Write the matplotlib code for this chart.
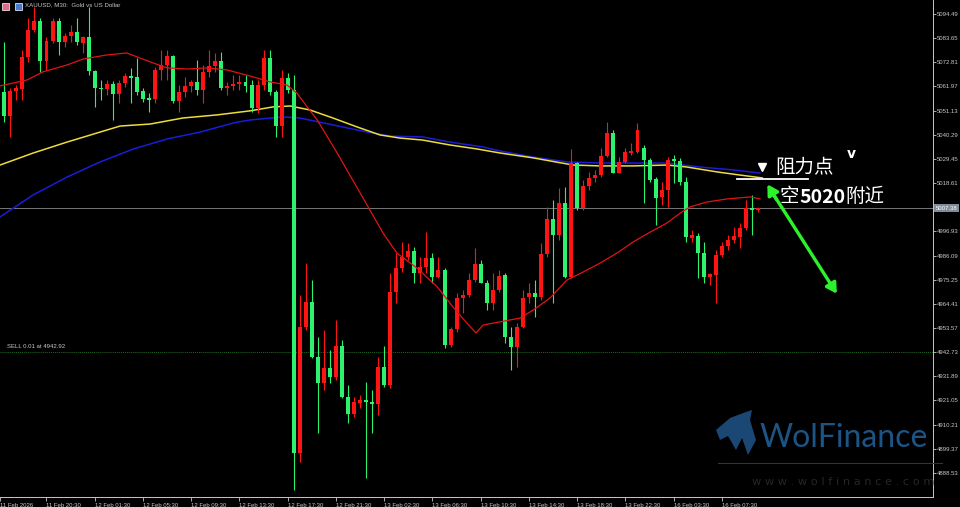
import numpy as np
import matplotlib
matplotlib.use("Agg")
import matplotlib.pyplot as plt
import matplotlib.transforms as mtransforms
from matplotlib.patches import Polygon, Rectangle

# XAUUSD M30 bars, red = up, green = down
# first bar is the one cut by the left edge
opens = [5071.6,
         5059.5, 5048.7, 5059.9, 5060.8, 5075.2, 5087.3, 5091.3, 5073.4, 5082.4, 5091.3,
         5081.9, 5084.6, 5086.4, 5081.5, 5084.2, 5068.9, 5061.3, 5060.8, 5063.1, 5058.6,
         5063.5, 5066.7, 5066.2, 5059.9, 5056.8, 5056.3, 5069.4, 5071.6, 5075.6, 5055.4,
         5059.5, 5062.2, 5064.0, 5060.4, 5068.5, 5071.2, 5073.4, 5061.3, 5062.2, 5063.1,
         5064.0, 5062.6, 5052.3, 5062.6, 5074.7, 5059.5, 5044.2, 5065.8, 5060.4, 4897.5,
         4954.0, 4965.2, 4940.5, 4928.9, 4935.6, 4931.6, 4945.5, 4922.6, 4915.0, 4919.9,
         4921.3, 4920.4, 4919.5, 4936.1, 4928.0, 4969.7, 4980.5, 4985.4, 4988.1, 4978.2,
         4980.9, 4985.0, 4976.5, 4979.6, 4945.9, 4953.1, 4967.0, 4968.4, 4975.1, 4982.3,
         4973.8, 4964.8, 4970.6, 4977.3, 4949.5, 4945.0, 4954.0, 4967.5, 4969.3, 4967.5,
         4986.8, 5002.5, 4995.3, 5009.7, 4976.5, 5027.6, 5007.4, 5017.3, 5020.9, 5022.2,
         5030.8, 5041.1, 5023.1, 5028.1, 5032.1, 5032.6, 5034.4, 5029.0, 5020.4, 5012.4,
         5015.5, 5029.4, 5028.5, 5019.1, 4993.9, 4994.8, 4987.2, 4976.5, 4977.3, 4986.3,
         4990.4, 4993.1, 4994.4, 4998.4, 5007.4, 5006.5]
highs = [5073.4,
         5081.9, 5061.3, 5062.6, 5078.3, 5092.7, 5097.6, 5092.7, 5084.2, 5092.7, 5092.7,
         5086.0, 5089.5, 5092.7, 5084.6, 5097.6, 5069.4, 5064.9, 5064.9, 5064.4, 5064.9,
         5068.0, 5070.3, 5074.7, 5061.3, 5059.0, 5070.7, 5078.3, 5078.3, 5076.1, 5062.6,
         5066.2, 5064.9, 5073.8, 5071.6, 5078.3, 5076.9, 5077.4, 5064.0, 5067.1, 5067.1,
         5067.1, 5064.9, 5064.9, 5078.3, 5078.3, 5060.4, 5069.4, 5068.0, 5067.1, 4968.4,
         4982.7, 4975.1, 4949.5, 4952.7, 4943.7, 4957.2, 4948.2, 4928.0, 4922.6, 4923.5,
         4929.3, 4925.7, 4940.5, 4945.5, 4978.2, 4987.2, 4992.2, 4991.7, 4989.9, 4985.4,
         4996.6, 4987.2, 4985.4, 4980.5, 4954.0, 4969.3, 4970.6, 4978.2, 4989.5, 4984.1,
         4975.1, 4978.2, 4979.6, 4978.2, 4954.0, 4955.8, 4970.6, 4973.8, 4975.1, 4991.7,
         5007.9, 5011.0, 5016.4, 5016.8, 5033.9, 5028.1, 5020.0, 5023.6, 5024.5, 5034.4,
         5046.0, 5042.4, 5030.3, 5034.4, 5036.6, 5045.6, 5035.7, 5029.9, 5021.3, 5019.1,
         5030.3, 5031.2, 5029.9, 5021.3, 4997.5, 4996.2, 4992.2, 4978.2, 4988.6, 4992.2,
         4995.3, 4998.9, 5000.7, 5011.0, 5013.3, 5007.9]
lows = [5059.9,
        5046.0, 5039.3, 5055.9, 5055.9, 5073.0, 5086.4, 5068.5, 5069.4, 5081.5, 5076.1,
        5079.7, 5081.9, 5080.6, 5077.0, 5067.1, 5052.8, 5055.9, 5058.1, 5046.9, 5054.6,
        5061.7, 5054.6, 5058.1, 5055.0, 5050.5, 5054.6, 5064.9, 5064.9, 5054.6, 5050.5,
        5057.2, 5059.5, 5058.1, 5054.6, 5066.2, 5068.5, 5060.4, 5058.1, 5060.4, 5060.4,
        5059.5, 5050.5, 5050.1, 5060.4, 5058.1, 5039.3, 5039.3, 5059.0, 4880.9, 4893.4,
        4952.7, 4940.1, 4906.4, 4925.7, 4928.9, 4930.2, 4922.1, 4911.0, 4913.6, 4917.7,
        4886.3, 4906.4, 4914.6, 4927.1, 4926.7, 4964.8, 4978.7, 4984.1, 4973.8, 4973.8,
        4978.2, 4973.8, 4976.0, 4944.6, 4945.0, 4951.8, 4960.3, 4967.5, 4974.2, 4973.8,
        4961.6, 4961.6, 4969.7, 4946.8, 4934.7, 4936.1, 4953.6, 4964.8, 4958.5, 4966.1,
        4985.4, 4964.8, 4993.1, 4976.0, 4976.0, 5006.5, 5006.5, 5015.5, 5019.1, 5021.3,
        5030.3, 5023.1, 5023.1, 5027.6, 5031.2, 5032.1, 5009.7, 5019.1, 4999.8, 5008.8,
        5007.9, 5018.6, 5017.8, 4992.2, 4992.2, 4976.0, 4973.8, 4972.9, 4964.8, 4985.4,
        4988.6, 4991.7, 4989.5, 4997.5, 4995.3, 5005.6]
closes = [5061.7,
          5048.7, 5059.9, 5061.3, 5075.2, 5087.3, 5091.3, 5073.4, 5082.4, 5091.3, 5081.9,
          5084.6, 5086.4, 5081.9, 5084.2, 5068.9, 5061.3, 5060.8, 5063.1, 5058.6, 5063.5,
          5066.7, 5065.8, 5059.5, 5056.3, 5055.9, 5069.4, 5071.6, 5075.6, 5055.4, 5059.5,
          5062.2, 5064.0, 5060.4, 5068.5, 5071.2, 5073.4, 5061.3, 5062.2, 5063.1, 5064.0,
          5062.2, 5052.3, 5062.6, 5074.7, 5059.5, 5044.2, 5065.8, 5060.4, 4897.5, 4954.0,
          4965.2, 4940.5, 4928.9, 4935.6, 4931.6, 4945.5, 4922.6, 4915.0, 4920.4, 4921.3,
          4920.4, 4919.5, 4936.1, 4928.0, 4969.7, 4980.5, 4985.4, 4988.1, 4978.2, 4980.9,
          4985.0, 4976.5, 4979.6, 4945.9, 4953.1, 4967.0, 4968.4, 4975.1, 4982.3, 4973.8,
          4964.8, 4970.6, 4976.9, 4949.5, 4945.0, 4954.0, 4967.0, 4969.3, 4967.5, 4986.8,
          5002.5, 4995.3, 5009.7, 4976.5, 5027.6, 5007.4, 5017.3, 5020.9, 5022.2, 5030.8,
          5041.1, 5023.1, 5028.1, 5032.6, 5033.0, 5042.4, 5029.0, 5020.0, 5011.9, 5015.5,
          5029.0, 5028.5, 5019.1, 4994.4, 4995.3, 4987.2, 4976.5, 4977.8, 4986.3, 4990.4,
          4993.1, 4994.8, 4998.4, 5007.4, 5006.5, 5007.4]

# moving averages (bar position, price)
ma_red_x = [-0.7, 3.8, 6.4, 10.4, 13.1, 17.0, 20.3, 24.7, 27.0, 30.3, 33.6, 36.9, 40.7, 44.1,
            46.9, 48.5, 51.9, 55.2, 59.0, 62.8, 65.1, 68.4, 71.8, 74.4, 76.7, 78.2, 79.4,
            82.2, 85.5, 87.7, 90.5, 93.3, 96.0, 98.8, 101.6, 104.3, 107.1, 109.9, 112.1,
            113.7, 116.5, 119.9, 123.7, 125.3]
ma_red_y = [5062.2, 5064.9, 5068.5, 5071.6, 5074.3, 5076.1, 5077.0, 5072.5, 5070.3, 5069.8,
            5070.3, 5069.4, 5066.7, 5064.0, 5062.6, 5059.0, 5046.9, 5032.1, 5014.2, 4996.2,
            4987.2, 4980.5, 4972.0, 4963.0, 4955.8, 4951.3, 4954.9, 4956.3, 4958.0, 4961.6,
            4967.0, 4975.1, 4978.7, 4982.7, 4987.2, 4992.2, 4996.6, 5000.7, 5005.2, 5007.9,
            5010.1, 5011.5, 5012.4, 5011.5]
ma_yel_x = [-0.7, 4.8, 10.4, 15.9, 19.2, 24.2, 29.6, 35.3, 40.7, 44.6, 47.4, 50.7, 54.5,
            58.5, 62.3, 65.6, 69.4, 73.9, 78.4, 82.2, 87.7, 94.3, 98.8, 104.3, 109.9, 113.2,
            118.2, 122.0, 125.7]
ma_yel_y = [5026.7, 5032.1, 5037.0, 5041.5, 5044.2, 5045.1, 5047.8, 5049.2, 5051.0, 5052.8,
            5053.2, 5051.4, 5047.8, 5043.8, 5040.2, 5038.8, 5037.9, 5035.7, 5033.9, 5032.1,
            5029.9, 5026.7, 5026.3, 5026.3, 5026.7, 5025.8, 5023.6, 5022.2, 5020.9]
ma_blu_x = [-0.7, 4.8, 10.4, 15.9, 21.4, 27.0, 32.5, 38.0, 40.7, 46.2, 49.0, 54.5, 60.2,
            64.0, 69.4, 73.9, 79.4, 82.2, 87.7, 93.3, 98.8, 104.3, 109.9, 115.4, 120.9, 125.3]
ma_blu_y = [5003.4, 5013.3, 5021.3, 5028.1, 5033.9, 5038.4, 5041.5, 5045.6, 5046.9, 5048.3,
            5047.8, 5044.7, 5041.5, 5039.7, 5039.3, 5037.0, 5034.8, 5033.0, 5030.3, 5028.1,
            5027.6, 5027.6, 5027.6, 5025.8, 5024.5, 5023.1]

price_ticks = [5094.49, 5083.65, 5072.81, 5061.97, 5051.13, 5040.29, 5029.45, 5018.61,
               4996.93, 4986.09, 4975.25, 4964.41, 4953.57, 4942.73, 4931.89, 4921.05,
               4910.21, 4899.37, 4888.53]
time_pos = [-0.7, 7, 15, 23, 31, 39, 47, 55, 63, 71, 79, 87, 95, 103, 111, 119]
time_labels = ["11 Feb 2026", "11 Feb 20:30", "12 Feb 01:30", "12 Feb 05:30", "12 Feb 09:30",
               "12 Feb 13:30", "12 Feb 17:30", "12 Feb 21:30", "13 Feb 02:30", "13 Feb 06:30",
               "13 Feb 10:30", "13 Feb 14:30", "13 Feb 18:30", "13 Feb 22:30", "16 Feb 03:30",
               "16 Feb 07:30"]
last_price = 5007.38
sell_price = 4942.92

cjk = ["Noto Sans CJK SC", "DejaVu Sans"]
small = "Liberation Sans"
axcol = "#c8c8c8"

fig = plt.figure(figsize=(9.6, 5.07), dpi=100, facecolor="black")
ax = fig.add_axes([0, 10 / 507, 933 / 960, 497 / 507], facecolor="black")

# candles
x = np.arange(len(opens)) - 1
o = np.array(opens); c = np.array(closes)
up = c >= o
cols = np.where(up, "#ff1414", "#2cf26e")
ax.vlines(x, lows, highs, colors=cols, lw=0.8, zorder=3)
bot = np.minimum(o, c)
hgt = np.maximum(np.abs(c - o), 0.6)
ax.bar(x, hgt, bottom=bot, width=0.66, color=cols, lw=0, zorder=4)

# moving averages
ax.plot(ma_blu_x, ma_blu_y, color="#1c1cd6", lw=1.1, zorder=2)
ax.plot(ma_yel_x, ma_yel_y, color="#ecdc3c", lw=1.1, zorder=2)
ax.plot(ma_red_x, ma_red_y, color="#e01414", lw=0.9, zorder=5)

# price lines
ax.axhline(last_price, color="#8a8a8a", lw=0.6, zorder=1)
ax.axhline(sell_price, color="#1f6a1f", lw=0.7, ls=(0, (1, 1)), zorder=1)
ax.text(0.5, sell_price + 1.2, "SELL 0.01 at 4942.92", color=axcol, fontsize=4.3,
        family=small, va="bottom", ha="left")

ax.set_xlim(-0.71, 154.0)
ax.set_ylim(4877.7, 5100.77)

# axes styling
for s in ["left", "top"]:
    ax.spines[s].set_visible(False)
for s in ["right", "bottom"]:
    ax.spines[s].set_color(axcol)
    ax.spines[s].set_linewidth(0.7)
ax.yaxis.tick_right()
ax.set_yticks(price_ticks)
ax.set_yticklabels([f"{v:.2f}" for v in price_ticks], family=small)
ax.tick_params(axis="y", colors=axcol, labelsize=4.3, length=2, width=0.6, pad=1)
ax.set_xticks(time_pos)
ax.set_xticklabels(time_labels, family=small)
ax.tick_params(axis="x", colors=axcol, labelsize=4.3, length=3, width=0.6, pad=1.5)
for lab in ax.get_xticklabels():
    lab.set_horizontalalignment("left")

tr = mtransforms.blended_transform_factory(ax.transAxes, ax.transData)
ax.text(1.0025, last_price, f"{last_price:.2f}", transform=tr, fontsize=4.3, family=small,
        color="white", va="center", ha="left",
        bbox=dict(boxstyle="square,pad=0.3", fc="#7f8c99", ec="none"))

# title
fig.patches.append(Rectangle((2 / 960, 497 / 507), 7 / 960, 7 / 507, transform=fig.transFigure,
                             fc="#e06a8a", ec="white", lw=0.5))
fig.patches.append(Rectangle((15 / 960, 497 / 507), 7 / 960, 7 / 507, transform=fig.transFigure,
                             fc="#4a7ad0", ec="white", lw=0.5))
fig.text(25 / 960, 1 - 4.5 / 507, "XAUUSD, M30:  Gold vs US Dollar", color=axcol, fontsize=4.4,
         family=small, va="center", ha="left")

# annotations
ax.plot([121.5, 133.3], [5020.4, 5020.4], color="white", lw=1.3, zorder=6)
ax.plot(125.6, 5025.6, marker="v", color="white", ms=6, zorder=6)
ax.text(127.9, 5025.4, "阻力点", color="white", fontsize=14, family=cjk, va="center", ha="left")
ax.text(140.4, 5031.6, "v", color="white", fontsize=10, weight="bold", va="center", ha="center")
t1 = ax.text(128.6, 5008.0, "空", color="white", fontsize=14, family=cjk, va="bottom", ha="left")
t2 = ax.annotate("5020", xy=(1, 0), xycoords=t1, color="white", fontsize=14, family=cjk,
                 weight="bold", va="bottom", ha="left")
ax.annotate("附近", xy=(1, 0), xycoords=t2, color="white", fontsize=14, family=cjk,
            va="bottom", ha="left")
green = "#2cf22c"
ax.annotate("", xy=(126.3, 5019.1), xytext=(128.3, 5010.1),
            arrowprops=dict(arrowstyle="-|>,head_length=0.6,head_width=0.35", color=green, lw=2.4))
ax.annotate("", xy=(138.3, 4967.9), xytext=(127.5, 5013.7),
            arrowprops=dict(arrowstyle="-|>,head_length=0.6,head_width=0.35", color=green, lw=2.4))

# watermark
wolf = [(716, 430), (730, 418), (746, 412), (752, 410), (750, 420), (756, 440), (748, 455),
        (742, 438), (736, 450), (728, 436), (720, 440)]
fig.patches.append(Polygon([(px / 960, 1 - py / 507) for px, py in wolf], closed=True,
                           transform=fig.transFigure, fc="#1d4f82", ec="none", alpha=0.9))
fig.text(760 / 960, 1 - 438 / 507, "WolFinance", color="#1c5585", fontsize=23, family="Lato",
         va="center", ha="left")
fig.lines.append(plt.Line2D([718 / 960, 942 / 960], [1 - 463 / 507, 1 - 463 / 507],
                            transform=fig.transFigure, color="#2c3440", lw=0.8))
fig.text(752 / 960, 1 - 482 / 507, "w w w . w o l f i n a n c e . c o m", color="#262626",
         fontsize=8.2, va="center", ha="left")

fig.savefig("out.png", dpi=100, facecolor="black")
